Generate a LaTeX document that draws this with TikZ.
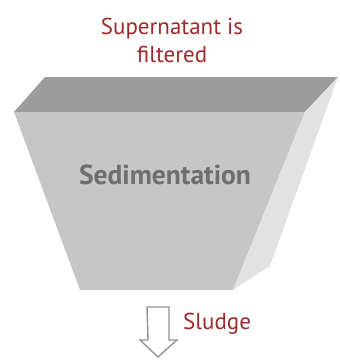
\documentclass[tikz,border=0pt]{standalone}
\usepackage{fontspec}
\setmainfont{PT Sans}
\usepackage{xcolor}
\usetikzlibrary{positioning}

\definecolor{tankred}{HTML}{9E2A2B}
\definecolor{topgray}{HTML}{9C9C9C}
\definecolor{frontgray}{HTML}{C6C6C6}
\definecolor{sidegray}{HTML}{E2E2E2}
\definecolor{labelgray}{HTML}{6E6E6E}

\begin{document}
\begin{tikzpicture}[
    x=1pt, y=1pt,
    note/.style={text=tankred, font=\fontsize{23}{28}\selectfont, align=center, inner sep=0pt},
    tank/.style={text=labelgray, font=\bfseries\fontsize{27.5}{30}\selectfont, inner sep=0pt},
    face/.style={draw=none}
  ]
    \useasboundingbox (0,0) rectangle (340,360);
    % tank corners
    \coordinate (tl) at (45,283);
    \coordinate (tr) at (338,283);
    \coordinate (fl) at (14,248);
    \coordinate (fr) at (305,248);
    \coordinate (bl) at (80,70);
    \coordinate (br) at (233,70);
    \coordinate (sb) at (270,94);
    \fill[face, topgray] (fl) -- (tl) -- (tr) -- (fr) -- cycle;
    \fill[face, frontgray] (fl) -- (fr) -- (br) -- (bl) -- cycle;
    \fill[face, sidegray] (fr) -- (tr) -- (sb) -- (br) -- cycle;
    \node[tank] (sed) at (165,185) {Sedimentation};
    \node[note] (super) at (172,320) {Supernatant is\\filtered};
    % sludge outlet
    \coordinate (out) at (158,53);
    \draw[draw=gray!85, line width=1.4pt, fill=white, line join=miter]
      ([xshift=-11pt]out) -- ([xshift=11pt]out) -- ++(0,-33) -- ++(8,0)
      -- ([yshift=-50pt]out) -- ++(-18,17) -- ++(8,0) -- cycle;
    \node[note, anchor=west] (sludge) at (183,36) {Sludge};
  \end{tikzpicture}
\end{document}
